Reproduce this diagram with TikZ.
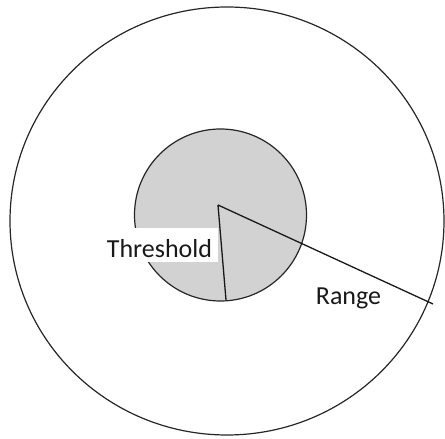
\documentclass[tikz,border=0pt]{standalone}
\usepackage{fontspec}
\setmainfont{Carlito}
\begin{document}
\begin{tikzpicture}[x=1pt,y=1pt,
  ring/.style={draw=black!85,line width=1.2pt},
  radius line/.style={draw=black!90,line width=1.3pt},
  lbl/.style={font=\fontsize{26}{30}\selectfont,text=black!90,inner sep=0pt}]
\useasboundingbox (0,0) rectangle (445,439);
\draw[ring] (227,218) ellipse [x radius=217, y radius=214];
\filldraw[ring,fill=gray!35] (220.5,224) circle [radius=86];
\coordinate (hub) at (218,234);
\coordinate (tend) at (226,139);
\coordinate (rend) at (433,135);
\draw[radius line] (hub) -- (tend);
\draw[radius line] (hub) -- (rend);
\node[fill=white,minimum width=115pt,minimum height=34pt,inner sep=0pt] (tbox) at (160.5,194) {};
\node[lbl,anchor=base] (thr) at (159.5,181) {Threshold};
\node[lbl,anchor=base] (rng) at (348.5,134) {Range};
\end{tikzpicture}
\end{document}
